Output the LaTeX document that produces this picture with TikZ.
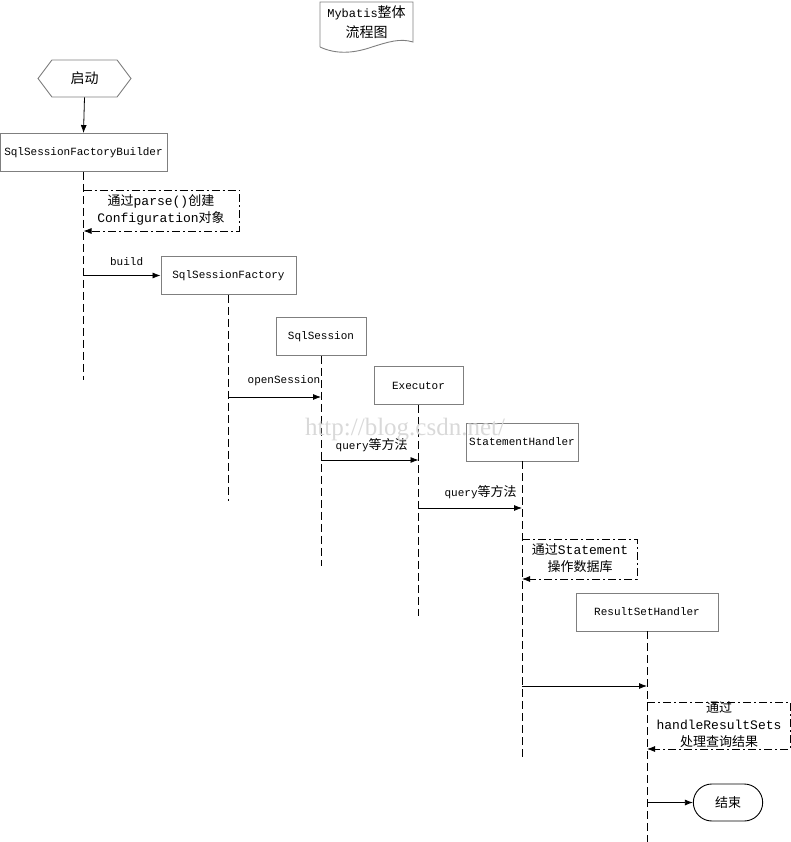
\documentclass[tikz,border=0pt]{standalone}
\usepackage{fontspec}
\setmonofont{Liberation Mono}
\newfontfamily\cjk{Noto Sans CJK SC}
\newfontfamily\wmfont{Liberation Serif}
\usepackage{tikz}
\usetikzlibrary{arrows.meta}
\usetikzlibrary{shapes.misc}
\usetikzlibrary{shapes.symbols}
\tikzset{>={Latex[length=8pt,width=6pt]}}
\definecolor{boxgray}{HTML}{7F7F7F}
\newcommand{\zh}[2][13]{{\cjk\fontsize{#1}{17}\selectfont #2}}

\tikzset{
  obj/.style={draw=boxgray, fill=white, line width=0.9pt, minimum height=38pt, inner sep=0pt,
    font=\ttfamily\fontsize{11}{14}\selectfont},
  life/.style={line width=0.9pt, dash pattern=on 8pt off 4pt},
  msg/.style={->, line width=0.8pt},
  note/.style={->, line width=0.8pt, dash pattern=on 8pt off 3pt on 2pt off 3pt},
  notetext/.style={align=center, inner sep=0pt, font=\ttfamily\fontsize{13}{17}\selectfont},
  lbl/.style={inner sep=0pt, font=\ttfamily\fontsize{11}{14}\selectfont}
}

\begin{document}
\begin{tikzpicture}[x=1pt, y=-1pt]
  \useasboundingbox (0,0) rectangle (791,842);

  % title sheet
  \draw[boxgray, line width=0.9pt] (320,47) -- (320,2) -- (413,2) -- (413,42)
    .. controls (400,38) and (388,42) .. (372,47) .. controls (352,54) and (335,54) .. (320,47);
  \node[align=center, inner sep=0pt, font=\ttfamily\fontsize{12}{20}\selectfont] (title) at (366.5,22)
    {Mybatis\zh[14]{整体}\\\zh[14]{流程图}};

  % start / end
  \node[signal, signal to=west and east, signal pointer angle=106, draw=boxgray, line width=0.9pt,
    minimum width=93pt, minimum height=37pt, inner sep=0pt] (start) at (84.5,78.5) {\zh[14]{启动}};
  \node[draw, rounded rectangle, line width=0.9pt, minimum width=76pt, minimum height=37pt] (stop)
    at (728,802.5) {\zh{结束}};

  % objects
  \node[obj, minimum width=167pt] (bld) at (83.5,152.5) {SqlSessionFactoryBuilder};
  \node[obj, minimum width=135pt] (fac) at (228.5,275.5) {SqlSessionFactory};
  \node[obj, minimum width=90pt] (ses) at (321,336.5) {SqlSession};
  \node[obj, minimum width=89pt] (exe) at (418.5,385.5) {Executor};
  \node[obj, minimum width=112pt] (sth) at (522,442) {StatementHandler};
  \node[obj, minimum width=142pt] (rsh) at (647,612) {ResultSetHandler};

  % lifelines
  \draw[life] (bld.south) -- ++(0,208);
  \draw[life] (fac.south) -- ++(0,206);
  \draw[life] (ses.south) -- ++(0,210);
  \draw[life] (exe.south) -- ++(0,211);
  \draw[life] (sth.south) -- ++(0,296);
  \draw[life] (rsh.south) -- ++(0,211);

  \draw[msg] (start.south) -- (bld.north);

  % parse() note
  \node[notetext] (n1) at (161,210) {\zh{通过}parse()\zh{创建}\\Configuration\zh{对象}};
  \coordinate (n1a) at (239,190);
  \coordinate (n1b) at (239,231);
  \draw[note] (n1a -| bld) -- (n1a) -- (n1b) -- (n1b -| bld);

  \draw[msg] (fac.west -| bld) -- node[lbl, pos=0.56, above=9pt] (lbuild) {build} (fac.west);

  \coordinate (os) at (ses |- 0,397);
  \draw[msg] (os -| fac) -- node[lbl, pos=0.6, above=11pt] (lopen) {openSession} (os);

  \coordinate (q1) at (exe |- 0,460);
  \draw[msg] (q1 -| ses) -- node[lbl, pos=0.52, above=8pt] (lq1) {query\zh{等方法}} (q1);

  \coordinate (q2) at (sth |- 0,508);
  \draw[msg] (q2 -| exe) -- node[lbl, pos=0.6, above=9pt] (lq2) {query\zh{等方法}} (q2);

  % Statement note
  \node[notetext] (n2) at (580,558.5) {\zh{通过}Statement\\\zh{操作数据库}};
  \coordinate (n2a) at (637,539);
  \coordinate (n2b) at (637,579);
  \draw[note] (n2a -| sth) -- (n2a) -- (n2b) -- (n2b -| sth);

  \coordinate (rs) at (rsh |- 0,686);
  \draw[msg] (rs -| sth) -- (rs);

  % handleResultSets note
  \node[notetext] (n3) at (719,725) {\zh{通过}\\handleResultSets\\\zh{处理查询结果}};
  \coordinate (n3a) at (790,702);
  \coordinate (n3b) at (790,749);
  \draw[note] (n3a -| rsh) -- (n3a) -- (n3b) -- (n3b -| rsh);

  \draw[msg] (stop.west -| rsh) -- (stop.west);

  % watermark
  \node[text=gray!30, inner sep=0pt, font=\wmfont\fontsize{25}{25}\selectfont] (wm) at (405,430)
    {http://blog.csdn.net/};
\end{tikzpicture}
\end{document}
